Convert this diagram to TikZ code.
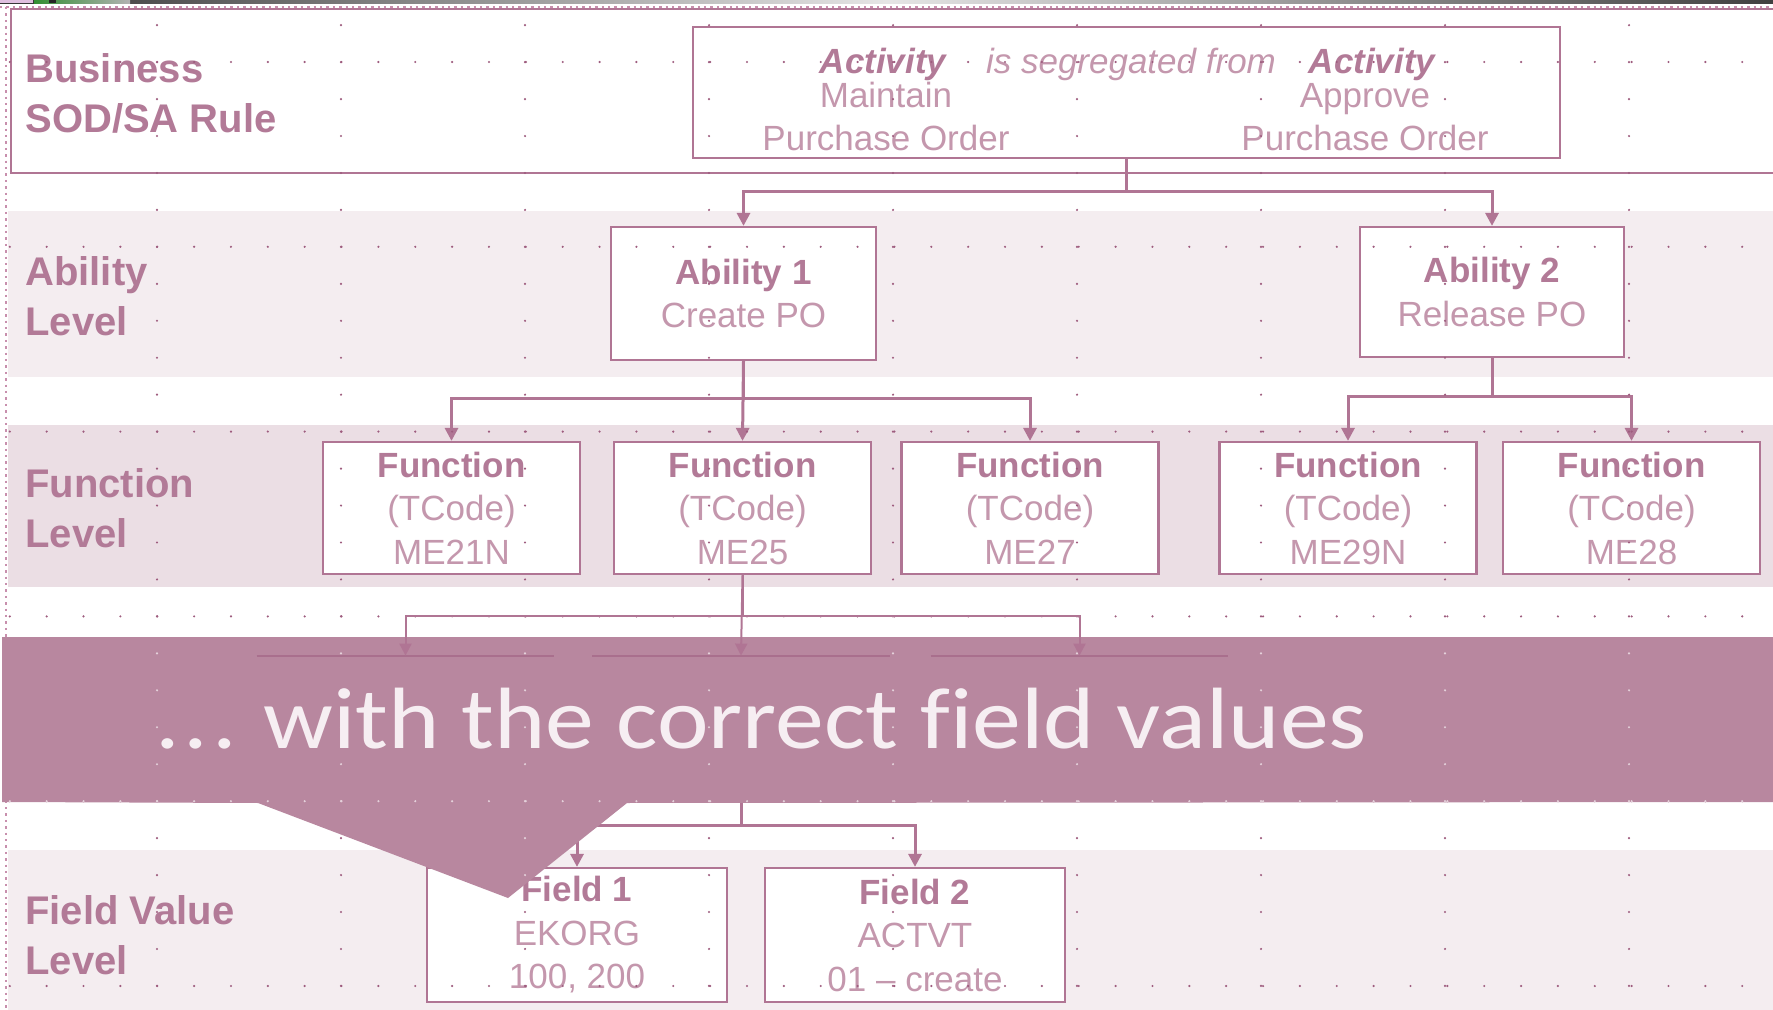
\documentclass[tikz,border=0pt]{standalone}
\usepackage{fontspec}
\setmainfont{Liberation Sans}
\newfontfamily\bannerfont{Carlito}[Ligatures=NoCommon]
\usetikzlibrary{arrows.meta,calc}

\definecolor{linec}{HTML}{B07594}
\definecolor{ttl}{HTML}{B27A97}
\definecolor{txt}{HTML}{C497AD}
\definecolor{bandA}{HTML}{F4EDF0}
\definecolor{bandF}{HTML}{EBDEE4}
\definecolor{bannerc}{HTML}{B8879F}
\definecolor{bannertxt}{HTML}{F6EEF2}
\definecolor{dotc}{HTML}{9E5C7E}
\definecolor{dotlight}{HTML}{E4D0DA}
\definecolor{hidc}{HTML}{A96F8D}
\definecolor{edgec}{HTML}{C88FAD}

% grid of guide dots: rows every 184.8 units, columns every 184 units
\newcommand\mygriddots[1]{%
  \foreach \k in {0,...,5}{%
    \pgfmathsetmacro\ry{62+184.8*\k}%
    \foreach \j in {0,...,47}{%
      \fill[#1] ({9.8+36.86*\j},\ry) circle (0.6pt);}}%
  \foreach \k in {0,...,8}{%
    \pgfmathsetmacro\cx{157+184*\k}%
    \foreach \j in {0,...,26}{%
      \fill[#1] (\cx,{25.2+36.95*\j}) circle (0.6pt);}}%
}

\begin{document}
\begin{tikzpicture}[x=0.5pt,y=-0.5pt,
  box/.style={draw=linec, line width=1.1pt, fill=white, inner sep=0pt,
    align=center, text=txt, font=\fontsize{17.5}{21.75}\selectfont},
  fbox/.style={box, minimum width=128.5pt, minimum height=66pt},
  vbox/.style={box, minimum width=150pt, minimum height=67pt},
  hidbox/.style={inner sep=0pt, minimum width=148.5pt, minimum height=66pt},
  lvl/.style={inner sep=0pt, anchor=west, align=left, text=ttl,
    font=\fontsize{20}{25}\selectfont\bfseries},
  rtxt/.style={inner sep=0pt, anchor=base, text=txt,
    font=\fontsize{17.5}{21}\selectfont},
  conn/.style={draw=linec, line width=1.5pt,
    -{Triangle[length=6.5pt,width=6.5pt]}},
  thinconn/.style={draw=linec, line width=1pt,
    -{Triangle[length=6pt,width=6pt]}},
]
\useasboundingbox (0,0) rectangle (1773,1010);
\clip (0,0) rectangle (1773,1010);

% window strip along the top edge
\shade[left color=black!80, right color=black!10] (0,0) rectangle (887,3.5);
\shade[left color=black!10, right color=black!75] (887,0) rectangle (1773,3.5);
\shade[left color=green!45!black!80, right color=black!30] (34,0) rectangle (130,3.5);
\fill[black!85] (49,0) rectangle (56,3.5);
\fill[violet!25] (0,0) rectangle (33,3.5);

% level bands
\draw[linec, line width=1pt, fill=white] (11,9) rectangle (1790,173);
\fill[bandA] (8,211) rectangle (1773,377);
\fill[bandF] (8,425) rectangle (1773,587);
\fill[bandA] (8,850) rectangle (1773,1010);

% slide edges
\draw[edgec, line width=1.2pt, dotted] (0,7) -- (1773,7);
\draw[edgec, line width=1.2pt, dotted] (6,7) -- (6,1010);

% level captions
\node[lvl] (lbiz) at (25,93) {Business\\SOD/SA Rule};
\node[lvl] (labl) at (25,296) {Ability\\Level};
\node[lvl] (lfun) at (25,508.5) {Function\\Level};
\node[lvl] (lfld) at (25,935.5) {Field Value\\Level};

% business rule
\node[box, minimum width=433.5pt, minimum height=65.5pt] (rule) at (1126.5,92.5) {};
\node[rtxt, text=ttl, font=\fontsize{17.5}{21}\selectfont\bfseries\itshape] (act1) at (883,73.5) {Activity};
\node[rtxt, font=\fontsize{17.5}{21}\selectfont\itshape] (seg) at (1131,73.5) {is segregated from};
\node[rtxt, text=ttl, font=\fontsize{17.5}{21}\selectfont\bfseries\itshape] (act2) at (1372,73.5) {Activity};
\node[rtxt] (maint) at (886,107.5) {Maintain};
\node[rtxt] (po1) at (886,150.5) {Purchase Order};
\node[rtxt] (appr) at (1365,107.5) {Approve};
\node[rtxt] (po2) at (1365,150.5) {Purchase Order};

% abilities
\node[box, minimum width=132.5pt, minimum height=66.5pt] (ab1) at (743.5,293.5)
  {\textcolor{ttl}{\bfseries Ability 1}\\Create PO};
\node[box, minimum width=132pt, minimum height=65pt] (ab2) at (1492,292)
  {\textcolor{ttl}{\bfseries Ability 2}\\Release PO};

% functions
\node[fbox] (f1) at (451.5,508) {\textcolor{ttl}{\bfseries Function}\\(TCode)\\ME21N};
\node[fbox] (f2) at (742.5,508) {\textcolor{ttl}{\bfseries Function}\\(TCode)\\ME25};
\node[fbox] (f3) at (1030,508) {\textcolor{ttl}{\bfseries Function}\\(TCode)\\ME27};
\node[fbox] (f4) at (1348,508) {\textcolor{ttl}{\bfseries Function}\\(TCode)\\ME29N};
\node[fbox] (f5) at (1631.5,508) {\textcolor{ttl}{\bfseries Function}\\(TCode)\\ME28};

% field values
\node[vbox] (v1) at (577,935) {\textcolor{ttl}{\bfseries Field 1}\\EKORG\\100, 200};
\node[vbox] (v2) at (915,935) {\textcolor{ttl}{\bfseries Field 2}\\ACTVT\\01 -- create};

% authorization objects under the banner
\node[hidbox] (h1) at (405.5,722) {};
\node[hidbox] (h2) at (741,722) {};
\node[hidbox] (h3) at (1079.5,722) {};

% bus levels
\coordinate (busA) at (0,192);
\coordinate (busB) at (0,399);
\coordinate (busC) at (0,397);
\coordinate (busD) at (0,616);
\coordinate (busE) at (0,825);

\draw[conn] (rule.south) -- (rule.south |- busA) -| (ab1.north);
\draw[conn] (rule.south) -- (rule.south |- busA) -| (ab2.north);
\draw[conn] (ab1.south) -- (ab1.south |- busB) -| (f1.north);
\draw[conn] (ab1.south) -- (f2.north);
\draw[conn] (ab1.south) -- (ab1.south |- busB) -| (f3.north);
\draw[conn] (ab2.south) -- (ab2.south |- busC) -| (f4.north);
\draw[conn] (ab2.south) -- (ab2.south |- busC) -| (f5.north);
\draw[conn] (h2.south) -- (h2.south |- busE) -| (v1.north);
\draw[conn] (h2.south) -- (h2.south |- busE) -| (v2.north);

% guide dots
\mygriddots{dotc}

% banner with its pointer
\fill[bannerc] (2,637) -- (1773,637) -- (1773,802) -- (627,803) -- (508,898)
  -- (258,803) -- (2,802) -- cycle;
\begin{scope}
  \clip (2,637) -- (1773,637) -- (1773,802) -- (627,803) -- (508,898)
    -- (258,803) -- (2,802) -- cycle;
  \mygriddots{dotlight}
\end{scope}

% tops of the objects showing through the banner
\foreach \h in {h1,h2,h3}
  \draw[hidc, line width=1pt] (\h.north west) -- (\h.north east);
\draw[thinconn] (f2.south) -- (f2.south |- busD) -| (h1.north);
\draw[thinconn] (f2.south) -- (h2.north);
\draw[thinconn] (f2.south) -- (f2.south |- busD) -| (h3.north);

\node[inner sep=0pt, anchor=base west, text=bannertxt,
  font=\bannerfont\fontsize{43.5}{50}\selectfont] (claim) at (155,748)
  {\scalebox{1.123}[1]{.\kern0.04em.\kern0.04em.\hspace{0.27em}with the correct field values}};
\end{tikzpicture}
\end{document}
